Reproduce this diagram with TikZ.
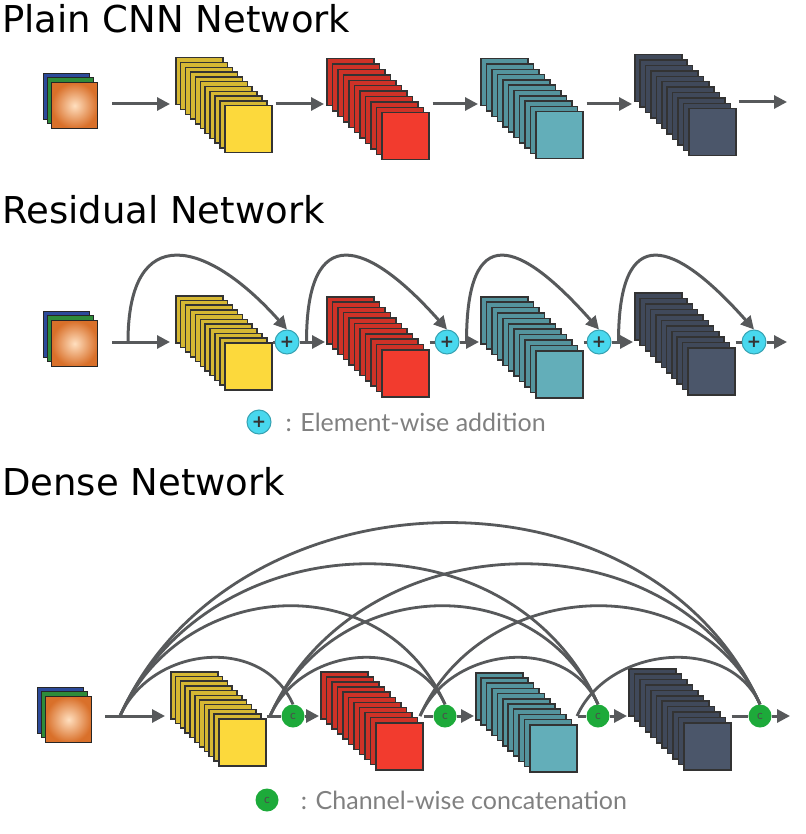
\documentclass[tikz,border=0pt]{standalone}
\usepackage{fontspec}
\setmainfont{DejaVu Sans}
\newfontfamily\legendfont{Lato}
\usetikzlibrary{arrows.meta}
\definecolor{linegray}{HTML}{57595B}
\definecolor{pluscyan}{HTML}{48D8EE}
\definecolor{concatgreen}{HTML}{1DAA3A}
\definecolor{fyellow}{HTML}{FCD93C}
\definecolor{fred}{HTML}{F23B2E}
\definecolor{fteal}{HTML}{63AEB9}
\definecolor{fdark}{HTML}{4B566A}
\definecolor{imgblue}{HTML}{2C4A9A}
\definecolor{imggreen}{HTML}{2E8B3A}
\definecolor{imgorange}{HTML}{D9702A}
\tikzstyle{fmap}=[draw=black!80,line width=1.5pt,minimum size=47pt,inner sep=0pt,anchor=north west]
\tikzstyle{img}=[draw=black!85,line width=1.2pt,minimum size=46pt,inner sep=0pt,anchor=north west]
\tikzstyle{flow}=[draw=linegray,line width=3pt,-{Triangle[length=13pt,width=13pt]}]
\tikzstyle{link}=[draw=linegray,line width=3pt]
\tikzstyle{add}=[circle,fill=pluscyan,draw=pluscyan!75!black,line width=1pt,minimum size=24pt,inner sep=0pt,text=black!80,font=\bfseries\fontsize{17}{17}\selectfont]
\tikzstyle{cat}=[circle,fill=concatgreen,minimum size=23pt,inner sep=0pt,text=black!70,font=\legendfont\fontsize{12}{12}\selectfont]
\tikzstyle{title}=[anchor=base west,inner sep=0pt,font=\fontsize{37}{37}\selectfont]
\tikzstyle{legend}=[anchor=west,inner sep=0pt,text=black!50,font=\legendfont\fontsize{25}{25}\selectfont]

\begin{document}
\begin{tikzpicture}[x=1pt,y=-1pt]
\useasboundingbox (0, 0) rectangle (805, 834);
\node[title] at (2, 33) (plain) {Plain CNN Network};
\node[title] at (2, 223) (res) {Residual Network};
\node[title] at (2, 495) (dense) {Dense Network};
\foreach \name/\x/\y in {i1/43/73, i2/43/311, i3/37/687} {
  \node[img,fill=imgblue] at (\x, \y) (\name-b) {};
  \node[img,fill=imggreen] at (\x+4, \y+4) (\name-g) {};
  \node[img,inner color=orange!25,outer color=imgorange] at (\x+8, \y+9) (\name) {};
}
\foreach \name/\x/\y/\dx/\dy/\col in {y1/224/105/49/48/fyellow, r1/381/112/55/54/fred, t1/535/111/55/53/fteal, d1/688/108/54/54/fdark,
    y2/224/342/49/47/fyellow, r2/381/349/55/53/fred, t2/535/350/55/54/fteal, d2/687/347/53/55/fdark,
    y3/218/718/48/47/fyellow, r3/375/722/55/51/fred, t3/529/724/54/52/fteal, d3/683/722/55/54/fdark} {
  \foreach \i in {10,...,1}
    \node[fmap,fill=\col!85!black] at (\x-\i*\dx/10, \y-\i*\dy/10) (\name-\i) {};
  \node[fmap,fill=\col] at (\x, \y) (\name) {};
}
\coordinate (row1) at (0, 104);
\coordinate (o1) at (787, 102);
\draw[flow,shorten <=14pt,shorten >=5pt] (i1.east |- row1) -- (y1-10.west |- row1);
\foreach \a/\b in {y1/r1, r1/t1, t1/d1}
  \draw[flow,shorten <=3pt,shorten >=2pt] (\a.east |- row1) -- (\b-10.west |- row1);
\draw[flow,shorten <=2pt] (d1.east |- o1) -- (o1);
\coordinate (row2) at (0, 342);
\coordinate (s1) at (128, 342);
\coordinate (o2) at (787, 342);
\node[add] at (287, 342) (p1) {+};
\node[add] at (447, 342) (p2) {+};
\node[add] at (599, 342) (p3) {+};
\node[add] at (754, 342) (p4) {+};
\draw[flow,shorten <=14pt,shorten >=5pt] (i2.east |- row2) -- (y2-10.west |- row2);
\foreach \a/\p/\b in {y2/p1/r2, r2/p2/t2, t2/p3/d2} {
  \draw[link] (\a.east |- row2) -- (\p.west);
  \draw[flow,shorten >=1pt] (\p.east) -- (\b-10.west |- row2);
}
\draw[link] (d2.east |- row2) -- (p4.west);
\draw[flow] (p4.east) -- (o2);
\draw[flow] (s1) .. controls +(0, -122) and +(-80, -90) .. (p1.north);
\foreach \a/\b in {p1/p2, p2/p3, p3/p4}
  \draw[flow] ([xshift=7pt]\a.east) .. controls +(0, -122) and +(-80, -90) .. (\b.north);
\node[add] at (259, 422) (lp) {+};
\node[legend] at ([xshift=14pt]lp.east) (lpt) {: Element-wise addition};
\coordinate (row3) at (0, 716);
\coordinate (a0) at (120, 716);
\coordinate (a1) at (270, 716);
\coordinate (a2) at (420, 716);
\coordinate (a3) at (577, 716);
\coordinate (o3) at (790, 716);
\node[cat] at (293, 716) (c1) {c};
\node[cat] at (445, 716) (c2) {c};
\node[cat] at (598, 716) (c3) {c};
\node[cat] at (760, 716) (c4) {c};
\draw[flow,shorten <=13pt,shorten >=5pt] (i3.east |- row3) -- (y3-10.west |- row3);
\foreach \a/\c/\b in {y3/c1/r3, r3/c2/t3, t3/c3/d3} {
  \draw[link] (\a.east |- row3) -- (\c.west);
  \draw[flow,shorten >=1pt] (\c.east) -- (\b-10.west |- row3);
}
\draw[link] (d3.east |- row3) -- (c4.west);
\draw[flow] (c4.east) -- (o3);
\foreach \s/\t/\h in {a0/c1/70, a0/c2/139, a0/c3/195, a0/c4/250, a1/c2/70, a1/c3/139, a1/c4/195, a2/c3/70, a2/c4/139, a3/c4/70}
  \draw[link,line width=2.8pt] (\s) .. controls +(0.45*\h, -\h) and +(-0.45*\h, -\h) .. (\t.north);
\node[cat] at (267, 800) (lc) {c};
\node[legend] at ([xshift=22pt]lc.east) (lct) {: Channel-wise concatenation};
\end{tikzpicture}
\end{document}
